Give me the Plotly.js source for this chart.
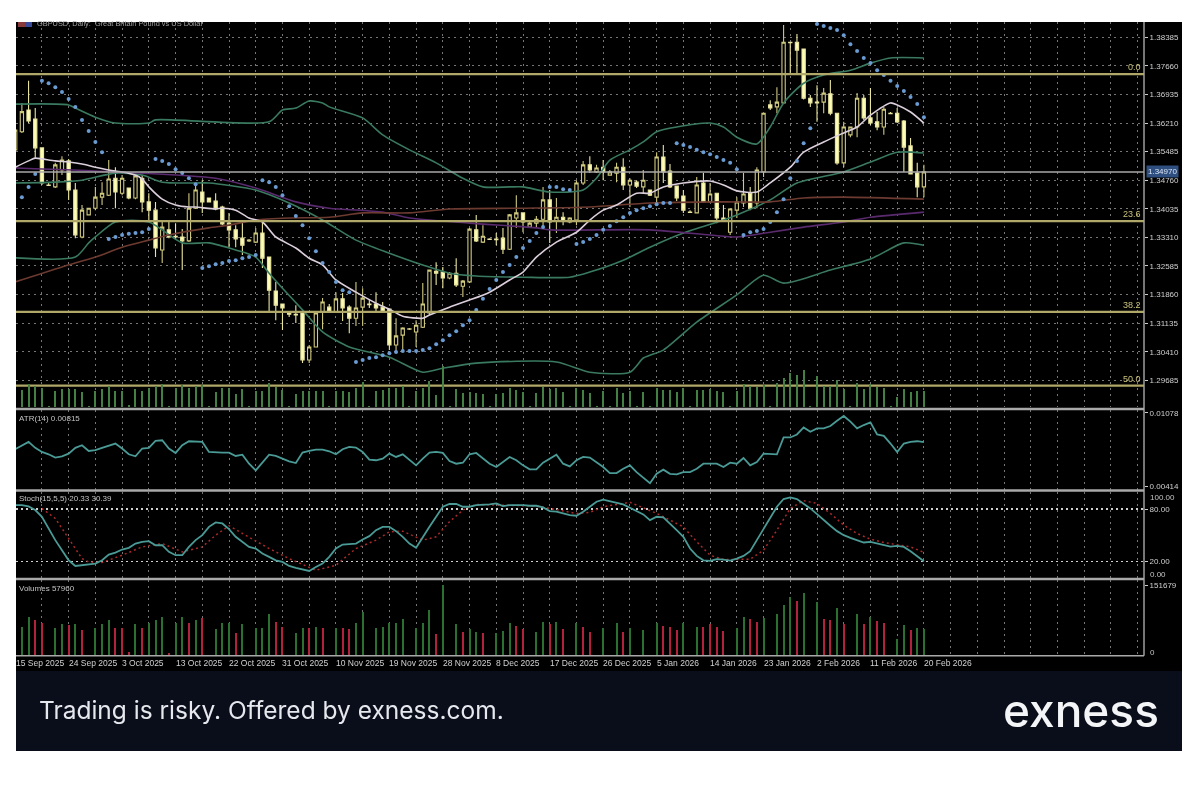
<!DOCTYPE html>
<html><head><meta charset="utf-8">
<script src="https://cdn.plot.ly/plotly-3.0.1.min.js"></script>
<style>html,body{margin:0;padding:0;background:#fff}#chart{width:1200px;height:800px;filter:blur(0.6px)}</style>
</head><body><div id="chart"></div>
<script>
const openP=[1.3553,1.3599,1.3654,1.3631,1.3558,1.3464,1.3459,1.3502,1.3525,1.3451,1.3332,1.3388,1.3405,1.3433,1.3438,1.3481,1.3443,1.3456,1.3431,1.3481,1.3421,1.3400,1.3299,1.3350,1.3334,1.3332,1.3322,1.3405,1.3446,1.3431,1.3423,1.3408,1.3367,1.3350,1.3329,1.3322,1.3319,1.3342,1.3281,1.3195,1.3162,1.3139,1.3136,1.3139,1.3020,1.3053,1.3142,1.3154,1.3142,1.3175,1.3154,1.3126,1.3154,1.3162,1.3162,1.3154,1.3149,1.3058,1.3083,1.3098,1.3091,1.3103,1.3139,1.3245,1.3243,1.3228,1.3240,1.3207,1.3218,1.3350,1.3319,1.3327,1.3327,1.3329,1.3301,1.3380,1.3393,1.3357,1.3367,1.3377,1.3426,1.3372,1.3382,1.3370,1.3375,1.3469,1.3515,1.3497,1.3509,1.3489,1.3494,1.3509,1.3464,1.3471,1.3459,1.3451,1.3433,1.3535,1.3499,1.3461,1.3436,1.3395,1.3393,1.3469,1.3421,1.3443,1.3380,1.3344,1.3400,1.3418,1.3443,1.3418,1.3497,1.3667,1.3662,1.3672,1.3826,1.3826,1.3809,1.3684,1.3674,1.3674,1.3695,1.3646,1.3520,1.3591,1.3611,1.3684,1.3634,1.3624,1.3611,1.3646,1.3646,1.3626,1.3563,1.3494,1.3459];
const highP=[1.3608,1.3672,1.3728,1.3659,1.3558,1.3469,1.3520,1.3537,1.3530,1.3469,1.3413,1.3405,1.3459,1.3471,1.3527,1.3509,1.3489,1.3456,1.3489,1.3489,1.3443,1.3421,1.3370,1.3370,1.3367,1.3352,1.3443,1.3469,1.3476,1.3431,1.3443,1.3411,1.3393,1.3362,1.3370,1.3327,1.3355,1.3375,1.3281,1.3218,1.3162,1.3142,1.3159,1.3139,1.3058,1.3139,1.3177,1.3162,1.3192,1.3190,1.3159,1.3218,1.3202,1.3172,1.3192,1.3167,1.3149,1.3126,1.3103,1.3101,1.3121,1.3215,1.3248,1.3268,1.3256,1.3243,1.3278,1.3223,1.3355,1.3388,1.3362,1.3329,1.3342,1.3355,1.3390,1.3438,1.3395,1.3370,1.3385,1.3459,1.3451,1.3431,1.3395,1.3382,1.3476,1.3525,1.3537,1.3515,1.3527,1.3502,1.3520,1.3532,1.3481,1.3476,1.3502,1.3451,1.3547,1.3565,1.3517,1.3461,1.3451,1.3400,1.3484,1.3494,1.3469,1.3443,1.3413,1.3405,1.3433,1.3494,1.3459,1.3509,1.3646,1.3679,1.3712,1.3870,1.3826,1.3847,1.3809,1.3692,1.3717,1.3710,1.3730,1.3646,1.3624,1.3611,1.3697,1.3692,1.3710,1.3649,1.3662,1.3649,1.3659,1.3629,1.3583,1.3520,1.3515];
const lowP=[1.3547,1.3596,1.3621,1.3532,1.3464,1.3461,1.3456,1.3489,1.3426,1.3329,1.3329,1.3388,1.3400,1.3413,1.3436,1.3405,1.3438,1.3428,1.3428,1.3395,1.3370,1.3281,1.3266,1.3329,1.3324,1.3248,1.3319,1.3403,1.3393,1.3421,1.3400,1.3362,1.3306,1.3306,1.3286,1.3319,1.3317,1.3253,1.3142,1.3121,1.3096,1.3129,1.3114,1.3012,1.3012,1.3053,1.3098,1.3139,1.3139,1.3119,1.3088,1.3106,1.3106,1.3152,1.3139,1.3139,1.3045,1.3037,1.3045,1.3096,1.3053,1.3101,1.3134,1.3210,1.3202,1.3225,1.3205,1.3180,1.3215,1.3319,1.3317,1.3324,1.3311,1.3289,1.3299,1.3355,1.3344,1.3355,1.3355,1.3355,1.3317,1.3342,1.3362,1.3367,1.3362,1.3464,1.3494,1.3494,1.3476,1.3487,1.3471,1.3451,1.3408,1.3456,1.3443,1.3436,1.3418,1.3469,1.3456,1.3423,1.3393,1.3393,1.3393,1.3418,1.3418,1.3367,1.3370,1.3337,1.3380,1.3408,1.3400,1.3405,1.3484,1.3654,1.3646,1.3672,1.3748,1.3748,1.3681,1.3662,1.3624,1.3646,1.3641,1.3515,1.3509,1.3585,1.3585,1.3629,1.3616,1.3603,1.3591,1.3644,1.3621,1.3497,1.3492,1.3433,1.3433];
const closeP=[1.3603,1.3650,1.3626,1.3558,1.3469,1.3463,1.3515,1.3527,1.3451,1.3337,1.3400,1.3405,1.3433,1.3443,1.3479,1.3446,1.3481,1.3431,1.3487,1.3421,1.3400,1.3304,1.3357,1.3332,1.3332,1.3322,1.3405,1.3451,1.3421,1.3421,1.3403,1.3365,1.3350,1.3327,1.3311,1.3324,1.3342,1.3278,1.3197,1.3159,1.3152,1.3136,1.3134,1.3020,1.3053,1.3139,1.3167,1.3142,1.3175,1.3152,1.3126,1.3152,1.3177,1.3160,1.3152,1.3142,1.3058,1.3081,1.3101,1.3099,1.3108,1.3162,1.3248,1.3240,1.3228,1.3240,1.3210,1.3220,1.3352,1.3322,1.3334,1.3326,1.3325,1.3301,1.3388,1.3393,1.3370,1.3367,1.3377,1.3426,1.3370,1.3382,1.3372,1.3380,1.3469,1.3515,1.3502,1.3507,1.3497,1.3497,1.3509,1.3464,1.3476,1.3461,1.3476,1.3438,1.3535,1.3497,1.3459,1.3431,1.3400,1.3394,1.3464,1.3421,1.3441,1.3380,1.3375,1.3403,1.3421,1.3441,1.3405,1.3502,1.3646,1.3659,1.3674,1.3826,1.3825,1.3806,1.3684,1.3672,1.3672,1.3697,1.3646,1.3520,1.3611,1.3611,1.3684,1.3634,1.3621,1.3611,1.3656,1.3645,1.3624,1.3560,1.3492,1.3459,1.3497];
const sar=[null,1.3433,1.3459,1.3492,1.3728,1.3722,1.3712,1.3700,1.3682,1.3662,1.3629,1.3601,1.3573,1.3547,1.3327,1.3332,1.3337,1.3340,1.3342,1.3344,1.3352,1.3530,1.3525,1.3517,1.3504,1.3494,1.3481,1.3466,1.3253,1.3258,1.3263,1.3266,1.3271,1.3273,1.3278,1.3281,1.3286,1.3476,1.3471,1.3459,1.3438,1.3410,1.3385,1.3362,1.3329,1.3296,1.3266,1.3243,1.3218,1.3197,1.3192,1.3015,1.3020,1.3025,1.3027,1.3032,1.3037,1.3040,1.3043,1.3043,1.3043,1.3045,1.3050,1.3060,1.3070,1.3083,1.3093,1.3108,1.3121,1.3147,1.3175,1.3200,1.3223,1.3243,1.3261,1.3281,1.3304,1.3322,1.3342,1.3357,1.3459,1.3459,1.3453,1.3451,1.3314,1.3319,1.3327,1.3337,1.3350,1.3360,1.3372,1.3382,1.3393,1.3400,1.3405,1.3410,1.3415,1.3418,1.3418,1.3570,1.3565,1.3560,1.3553,1.3547,1.3542,1.3535,1.3527,1.3520,1.3504,1.3337,1.3344,1.3347,1.3352,1.3370,1.3395,1.3428,1.3481,1.3525,1.3570,1.3608,1.3872,1.3867,1.3862,1.3857,1.3844,1.3821,1.3804,1.3786,1.3773,1.3755,1.3743,1.3728,1.3715,1.3702,1.3687,1.3669,1.3636];
const midIdx=[0,2,3,4,6,8,10,12,15,16,18,19,20,22,24,26,27,30,31,33,35,37,39,42,44,46,48,51,54,56,58,61,62,65,68,71,74,76,78,81,84,86,88,90,93,95,97,100,104,106,108,111,113,116,118,121,124,126,128,131,132,134,136];
const midVal=[1.3509,1.3525,1.3532,1.3530,1.3525,1.3522,1.3517,1.3509,1.3499,1.3497,1.3489,1.3479,1.3459,1.3428,1.3413,1.3408,1.3408,1.3403,1.3405,1.3400,1.3380,1.3370,1.3332,1.3304,1.3278,1.3261,1.3223,1.3192,1.3164,1.3149,1.3131,1.3126,1.3134,1.3154,1.3172,1.3192,1.3223,1.3243,1.3281,1.3319,1.3344,1.3375,1.3400,1.3413,1.3443,1.3443,1.3459,1.3469,1.3474,1.3464,1.3449,1.3446,1.3469,1.3509,1.3547,1.3573,1.3596,1.3611,1.3641,1.3672,1.3667,1.3649,1.3621];
const upIdx=[0,8,9,12,15,20,21,38,40,42,44,46,47,52,55,59,63,67,70,74,76,80,85,87,89,92,94,96,99,104,106,108,111,113,115,118,121,125,128,131,136];
const upVal=[1.3669,1.3667,1.3659,1.3636,1.3621,1.3621,1.3629,1.3624,1.3654,1.3659,1.3677,1.3672,1.3662,1.3634,1.3591,1.3553,1.3520,1.3481,1.3459,1.3459,1.3459,1.3446,1.3451,1.3481,1.3527,1.3553,1.3573,1.3599,1.3611,1.3621,1.3611,1.3585,1.3568,1.3611,1.3672,1.3722,1.3743,1.3755,1.3773,1.3786,1.3786];
const innerIdx=[0,6,10,15,19,22,27,29,36,41,46,51,56,61,65,69,76,83,86,91,95,100,106,108,113,117,124,128,132,136];
const innerVal=[1.3469,1.3471,1.3476,1.3494,1.3489,1.3471,1.3469,1.3469,1.3451,1.3418,1.3375,1.3324,1.3291,1.3261,1.3240,1.3233,1.3230,1.3230,1.3243,1.3273,1.3306,1.3342,1.3375,1.3388,1.3426,1.3469,1.3497,1.3522,1.3547,1.3545];
const lowIdx=[0,9,11,12,15,20,25,29,33,36,38,40,43,46,50,56,61,64,69,81,86,92,94,95,97,102,108,112,115,122,128,133,136];
const lowVal=[1.3279,1.3281,1.3317,1.3332,1.3370,1.3370,1.3317,1.3317,1.3299,1.3281,1.3240,1.3202,1.3147,1.3091,1.3053,1.3027,1.2989,1.2999,1.3012,1.3015,1.2989,1.2989,1.3025,1.3032,1.3045,1.3116,1.3185,1.3235,1.3215,1.3248,1.3276,1.3317,1.3311];
const purpleIdx=[0,15,30,36,42,47,55,59,68,78,80,95,104,108,113,118,124,128,136];
const purpleVal=[1.3507,1.3497,1.3481,1.3456,1.3421,1.3405,1.3395,1.3380,1.3367,1.3355,1.3350,1.3350,1.3337,1.3332,1.3344,1.3357,1.3370,1.3382,1.3395];
const brownIdx=[0,7,12,16,20,23,29,32,36,41,47,52,59,65,76,86,95,106,113,118,124,136];
const brownVal=[1.3218,1.3256,1.3281,1.3306,1.3324,1.3337,1.3355,1.3362,1.3375,1.3380,1.3382,1.3393,1.3393,1.3403,1.3405,1.3408,1.3418,1.3421,1.3421,1.3431,1.3433,1.3428];
const fibVal=[1.3745,1.3372,1.3142,1.2955];
const fibLab=['0.0','23.6','38.2','50.0'];
const priceNow=1.3497;
const priceTicks=[1.38385,1.37660,1.36935,1.36210,1.35485,1.34760,1.34035,1.33310,1.32585,1.31860,1.31135,1.30410,1.29685];
const atr=[.00751,.00781,.00817,.00763,.00726,.00705,.00675,.00687,.00711,.00763,.00787,.00735,.00742,.00763,.00781,.00802,.00757,.00705,.00687,.00757,.00763,.00826,.00832,.00757,.00717,.00787,.00823,.00823,.00817,.00726,.00720,.00720,.00720,.00690,.00702,.00620,.00560,.00629,.00702,.00690,.00666,.00641,.00626,.00720,.00735,.00748,.00748,.00732,.00705,.00751,.00772,.00766,.00726,.00657,.00651,.00666,.00711,.00681,.00705,.00651,.00605,.00666,.00720,.00726,.00717,.00644,.00620,.00629,.00705,.00717,.00666,.00620,.00590,.00635,.00681,.00651,.00605,.00569,.00569,.00629,.00666,.00702,.00620,.00596,.00651,.00681,.00675,.00635,.00590,.00535,.00535,.00575,.00605,.00544,.00493,.00444,.00529,.00566,.00529,.00523,.00544,.00544,.00575,.00620,.00620,.00620,.00590,.00629,.00620,.00672,.00605,.00635,.00711,.00705,.00705,.00857,.00857,.00884,.00948,.00908,.00939,.00939,.00960,.01008,.01051,.01000,.00939,.00969,.00993,.00884,.00872,.00802,.00726,.00802,.00817,.00823,.00815];
const stochMain=[84.5,84.5,83,78.8,71.1,57.0,44.4,32.9,21.4,14.9,15.7,16.5,17.6,21.4,27.9,30.2,33.7,35.6,40.5,42.5,43.2,38.6,38.6,31,27.2,27.2,36.7,44.4,50.1,59.6,64.6,63.5,57,48.2,42.5,36.7,34.8,29.1,25.3,21.4,19.5,14.9,12.6,10.7,9.2,13.8,17.6,25.3,34.8,39.4,39.8,40.5,45.1,49,55.8,59.6,59.6,54.7,48.2,40.5,35.6,48.2,59.6,71.1,82.6,85.7,85.7,82.6,82.6,84.5,84.5,85.3,86.4,83.4,84.5,84.9,84.5,83.7,83.7,81.8,77.6,76.9,74.9,73,72.3,76.9,82.6,88.3,90.6,89.1,87.2,85.3,81.5,78,73.8,67.3,71.1,70.4,63.5,55.8,48.2,34.8,26.4,21.4,20.7,22.6,22.2,21,23.3,26.4,31.8,44.4,57.8,71.1,82.6,91.4,93.3,91.4,86.4,80.7,74.2,67.3,60.8,54.7,50.1,47,44.4,41.7,42.5,40.5,38.6,37.1,37.9,36.7,31.8,26.4,20.33];
const sigIdx=[4,6,8,10,11,13,16,19,22,25,28,30,32,35,38,41,44,45,48,51,54,56,58,61,63,65,67,69,72,78,80,84,86,88,92,96,100,102,104,106,110,112,114,116,118,120,122,124,126,128,130,132,134,136];
const sigVal=[80.7,69.2,46.3,23.3,19.5,18.8,27.2,36.7,40.5,31,36.7,50.1,60.8,48.2,34.8,23.3,13.8,10,15.7,34.8,44.4,53.9,54.7,44.4,48.2,65.4,78.8,85.3,84.5,83.4,80.7,74.9,76.1,82.6,87.6,75,59.6,42.5,27.2,22.2,22.6,32.9,55.8,80.7,89.5,86.4,75,61.6,52,45.5,41.7,39.4,36.7,30.39];
const volume=[2000,62250,83700,76560,69400,2000,58670,67260,65800,67260,55090,2000,58670,67260,76560,60100,58670,8000,67260,60100,69400,76560,83700,5000,69400,82280,69400,76560,81570,2000,57240,69400,69400,49370,67260,2000,58670,60100,88720,72980,62250,2000,49370,60100,58670,60820,60100,2000,58670,60100,57240,69400,93000,2000,58670,62250,69400,69400,77990,2000,58670,69400,98020,45790,151679,2000,67260,51520,57240,51520,47940,2000,47940,52950,69400,64400,57240,2000,51520,72980,67970,71550,57240,2000,69400,62250,51520,2000,58670,2000,69400,51520,58670,2000,55090,2000,69400,64400,62250,55090,69400,2000,62250,62250,67260,60820,53660,2000,58670,83700,78700,72980,80140,2000,88720,108760,126640,118060,135230,2000,115910,78700,76560,101600,67970,2000,88720,67260,83700,75130,69400,2000,35780,65800,55090,60100,57960];
const volUp=[1,1,1,0,0,1,1,1,0,1,0,1,1,1,1,0,0,0,1,0,1,1,1,0,1,1,0,1,0,1,1,1,1,0,1,1,1,1,1,0,0,1,1,1,0,1,0,1,1,0,0,1,1,1,1,1,1,1,1,1,1,1,1,0,1,1,1,0,1,1,0,1,1,1,1,0,0,1,1,1,0,1,0,0,1,0,0,1,1,1,1,0,1,1,1,1,1,0,0,0,1,1,1,0,0,0,0,1,1,1,0,0,1,1,1,1,1,0,1,1,1,0,0,1,0,1,1,0,1,0,0,1,1,1,0,1,1];
const dateIdx=[0,8,16,24,32,40,48,56,64,72,80,88,96,104,112,120,128,136];
const dateLab=['15 Sep 2025','24 Sep 2025','3 Oct 2025','13 Oct 2025','22 Oct 2025','31 Oct 2025','10 Nov 2025','19 Nov 2025','28 Nov 2025','8 Dec 2025','17 Dec 2025','26 Dec 2025','5 Jan 2026','14 Jan 2026','23 Jan 2026','2 Feb 2026','11 Feb 2026','20 Feb 2026'];
const gridIdx=[];for(let i=4;i<=168;i+=4)gridIdx.push(i);

const px=x=>x/1200, py=y=>1-y/800;
const idx=openP.map((_,i)=>i);
const xRange=[0.12,168.94];
const FONT='"Liberation Sans",Arial,sans-serif';
const grid='#767676', teal='#4a9a96', green='#3a7a60', griddash='2px,4px';
const line=(x,y,color,width,ax,dash)=>({type:'scatter',mode:'lines',x,y,xaxis:ax[0],yaxis:ax[1],hoverinfo:'skip',showlegend:false,line:{color,width,dash:dash||'solid',shape:'linear'}});
const smooth=(x,y,color,width)=>({type:'scatter',mode:'lines',x,y,xaxis:'x',yaxis:'y',hoverinfo:'skip',showlegend:false,line:{color,width,shape:'spline',smoothing:0.7}});
const lastX=[xRange[0],xRange[1]];

const traces=[
 {type:'bar',x:idx,y:volume,xaxis:'x',yaxis:'y5',width:0.3,marker:{color:'#447f44',line:{width:0}},hoverinfo:'skip',showlegend:false},
 {type:'candlestick',x:idx,open:openP,high:highP,low:lowP,close:closeP,xaxis:'x',yaxis:'y',whiskerwidth:0,hoverinfo:'skip',showlegend:false,
  increasing:{line:{color:'#cfc87f',width:1.1},fillcolor:'#000'},decreasing:{line:{color:'#e9e59e',width:1.1},fillcolor:'#fdfdb8'}},
 smooth(lowIdx,lowVal,green,1.6),
 smooth(upIdx,upVal,green,1.6),
 smooth(innerIdx,innerVal,green,1.6),
 smooth(purpleIdx,purpleVal,'#5a2a6e',1.6),
 smooth(brownIdx,brownVal,'#6d3a30',1.6),
 smooth(midIdx,midVal,'#dccfdc',1.6),
 {type:'scatter',mode:'markers',x:idx,y:sar,xaxis:'x',yaxis:'y',hoverinfo:'skip',showlegend:false,marker:{color:'#6a9bd2',size:4}},
 ...fibVal.map(v=>line(lastX,[v,v],'#b0a868',2.2,['x','y'])),
 line(lastX,[priceNow,priceNow],'#a8a8a8',1.5,['x','y']),
 line(idx,atr,teal,1.8,['x2','y2']),
 line(sigIdx,sigVal,'#a82a2a',1.5,['x3','y3'],'2px,3px'),
 line(idx,stochMain,teal,1.8,['x3','y3']),
 {type:'bar',x:idx,y:volume,xaxis:'x4',yaxis:'y4',width:0.3,marker:{color:volUp.map(u=>u?'#2b7030':'#b3223c'),line:{width:0}},hoverinfo:'skip',showlegend:false}
];
const xax=(anchor)=>({domain:[px(16),px(1144)],range:xRange,anchor,showgrid:true,gridcolor:grid,griddash,gridwidth:1,tickmode:'array',tickvals:gridIdx,ticktext:gridIdx.map(()=>''),ticks:'',zeroline:false,showline:false,fixedrange:true,rangeslider:{visible:false}});
const yax=(d,range,tickvals,ticktext,extra)=>Object.assign({domain:d,range,side:'right',anchor:'free',position:px(1144),tickmode:'array',tickvals,ticktext,ticks:'outside',ticklen:3,tickcolor:'#ccc',tickfont:{family:FONT,size:8,color:'#cfcfcf'},showgrid:false,zeroline:false,showline:false,fixedrange:true},extra||{});
const note=(x,y,text,o)=>Object.assign({xref:'paper',yref:'paper',x:px(x),y:py(y),text,showarrow:false,xanchor:'left',yanchor:'middle',font:{family:FONT,size:8,color:'#c4c4c4'}},o||{});
const sep=(y,w)=>({type:'line',xref:'paper',yref:'paper',x0:px(16),x1:px(1144),y0:py(y),y1:py(y),line:{color:'#a9a9a9',width:w},layer:'above'});
const layout={
 width:1200,height:800,autosize:false,margin:{l:0,r:0,t:0,b:0},paper_bgcolor:'#fff',plot_bgcolor:'rgba(0,0,0,0)',showlegend:false,bargap:0,
 xaxis:xax('y'),xaxis2:xax('y2'),xaxis3:xax('y3'),xaxis4:xax('y4'),
 yaxis:yax([py(407),py(22)],[1.29007,1.38773],priceTicks,priceTicks.map(v=>v.toFixed(5)),{showgrid:true,gridcolor:grid,griddash,gridwidth:1}),
 yaxis2:yax([py(490.5),py(410)],[0.00378,0.01105],[0.01078,0.00414],['0.01078','0.00414']),
 yaxis3:yax([py(579),py(491.5)],[0,100],[20,80],['20.00','80.00'],{showgrid:true,gridcolor:'#d0d0d0',griddash:'2px,3px',gridwidth:1.2}),
 yaxis4:yax([py(655.7),py(580)],[0,162400],[151679],['151679']),
 yaxis5:{domain:[py(407),py(22)],range:[0,1424000],overlaying:'y',side:'right',visible:false,fixedrange:true,showgrid:false},
 shapes:[
  {type:'rect',xref:'paper',yref:'paper',x0:px(16),x1:px(1182),y0:py(671),y1:py(22),fillcolor:'#000',line:{width:0},layer:'below'},
  {type:'rect',xref:'paper',yref:'paper',x0:px(16),x1:px(1182),y0:py(751),y1:py(671),fillcolor:'#0a0d1a',line:{width:0},layer:'below'},
  {type:'rect',xref:'paper',yref:'paper',x0:px(18),x1:px(25),y0:py(27),y1:py(22),fillcolor:'#8a3a3a',line:{width:0},layer:'above'},
  {type:'rect',xref:'paper',yref:'paper',x0:px(25),x1:px(32),y0:py(27),y1:py(22),fillcolor:'#3a4a9a',line:{width:0},layer:'above'},
  sep(409,2.5),sep(490.5,2.5),sep(579,2.5),sep(655.7,1.4),
  {type:'line',xref:'paper',yref:'paper',x0:px(1144),x1:px(1144),y0:py(655.7),y1:py(22),line:{color:'#a9a9a9',width:1.4},layer:'above'}
 ],
 annotations:[
  note(35,23,'GBPUSD, Daily:  Great Britain Pound vs US Dollar',{font:{family:FONT,size:7.4,color:'#a0a0a0'}}),
  note(17,418,'ATR(14) 0.00815'),
  note(17,498,'Stoch(15,5,5) 20.33 30.39'),
  note(17,588,'Volumes 57960'),
  note(1148,497,'100.00'),note(1148,574,'0.00'),note(1148,652,'0'),
  note(1146,172,'1.34970',{bgcolor:'#2f4f80',font:{family:FONT,size:8,color:'#dbe6f5'}}),
  ...fibVal.map((v,i)=>({xref:'paper',yref:'y',x:px(1143),y:v,yshift:7,text:fibLab[i],showarrow:false,xanchor:'right',yanchor:'middle',font:{family:FONT,size:9,color:'#c9c27a'}})),
  ...dateLab.map((t,i)=>({xref:'x4',yref:'paper',x:Math.max(dateIdx[i],xRange[0]),y:py(662.5),text:t,showarrow:false,xanchor:'left',yanchor:'middle',xshift:-2,font:{family:FONT,size:8.5,color:'#d0d0d0'}})),
  note(37,710,'Trading is risky. Offered by exness.com.',{font:{family:'Inter,sans-serif',size:24.5,color:'#e6e8ee'}}),
  note(1161,710,'exness',{xanchor:'right',font:{family:'Inter,sans-serif',size:46,weight:500,color:'#f4f5f7'}})
 ]
};
Plotly.newPlot('chart',traces,layout,{staticPlot:true,displayModeBar:false});
</script></body></html>
